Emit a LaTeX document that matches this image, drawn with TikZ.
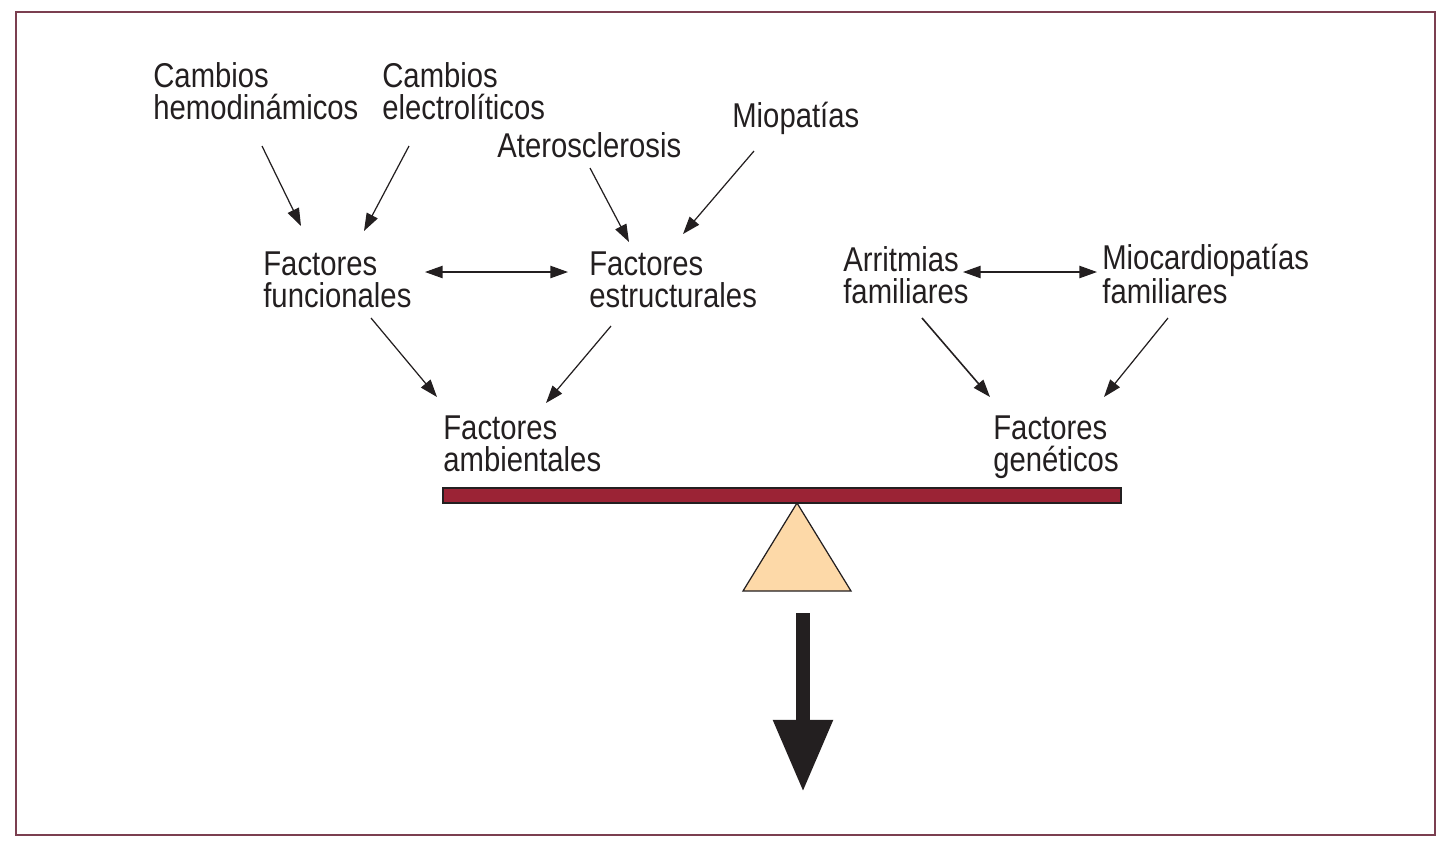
\documentclass[tikz,border=0pt]{standalone}
\usepackage{fontspec}
\newfontfamily\lblfont{Liberation Sans}[FakeStretch=0.85]
\usepackage{tikz}
\usetikzlibrary{arrows.meta}
\definecolor{framecol}{HTML}{7B3F50}
\definecolor{beamcol}{HTML}{9B2335}
\definecolor{peach}{HTML}{FDD9A8}
\definecolor{ink}{HTML}{231F20}

\tikzset{
  lbl/.style={anchor=base west, inner sep=0pt, align=left, text=ink,
    font=\lblfont\fontsize{19.6}{17.9}\selectfont},
  arr/.style={draw=ink, line width=0.7pt, -{Triangle[length=10pt,width=7pt]}},
  dbl/.style={draw=ink, line width=0.7pt, {Triangle[length=10pt,width=7pt]}-{Triangle[length=10pt,width=7pt]}}
}

\begin{document}
\begin{tikzpicture}[x=0.02cm, y=-0.02cm]
        \useasboundingbox (0,0) rectangle (1454,850);
        \draw[framecol, line width=1.1pt] (16,12) rectangle (1435,835);
        % causes (base = last line)
        \node[lbl] (hemo) at (153,119) {Cambios\\hemodinámicos};
        \node[lbl] (electro) at (382,119) {Cambios\\electrolíticos};
        \node[lbl] (atero) at (497,157) {Aterosclerosis};
        \node[lbl] (miopat) at (732,127) {Miopatías};
        \node[lbl] (func) at (263,307) {Factores\\funcionales};
        \node[lbl] (estruc) at (589,307) {Factores\\estructurales};
        \node[lbl] (arrit) at (843,303) {Arritmias\\familiares};
        \node[lbl] (miocard) at (1102,303) {Miocardiopatías\\familiares};
        \node[lbl] (ambient) at (443,471) {Factores\\ambientales};
        \node[lbl] (genet) at (993,471) {Factores\\genéticos};
        % connectors
        \draw[arr] ([shift={(109,27)}]hemo.base west) -- ([shift={(38,-81)}]func.base west);
        \draw[arr] ([shift={(27,27)}]electro.base west) -- ([shift={(101,-76)}]func.base west);
        \draw[arr] ([shift={(93,11)}]atero.base west) -- ([shift={(40,-65)}]estruc.base west);
        \draw[arr] ([shift={(22,24)}]miopat.base west) -- ([shift={(94,-73)}]estruc.base west);
        \draw[dbl] ([shift={(162,-35)}]func.base west) -- ([shift={(-21,-35)}]estruc.base west);
        \draw[arr] ([shift={(108,11)}]func.base west) -- ([shift={(-6,-74)}]ambient.base west);
        \draw[arr] ([shift={(22,19)}]estruc.base west) -- ([shift={(103,-68)}]ambient.base west);
        \draw[dbl] ([shift={(120,-31)}]arrit.base west) -- ([shift={(-5,-31)}]miocard.base west);
        \draw[arr, line width=0.9pt] ([shift={(79,15)}]arrit.base west) -- ([shift={(-3,-74)}]genet.base west);
        \draw[arr] ([shift={(66,15)}]miocard.base west) -- ([shift={(111,-74)}]genet.base west);
        % balance
        \coordinate (pivot) at (797,503);
        \draw[ink, fill=beamcol, line width=0.7pt] (443,488) rectangle (1121,503);
        \draw[ink, fill=peach, line width=0.7pt] (pivot) -- (743,591) -- (851,591) -- cycle;
        \coordinate (dropstart) at (803,613);
        \coordinate (droptip) at (803,792);
        \draw[ink, line width=8pt, -{Triangle[length=41pt,width=32pt]}] (dropstart) -- (droptip);
      \end{tikzpicture}
\end{document}
